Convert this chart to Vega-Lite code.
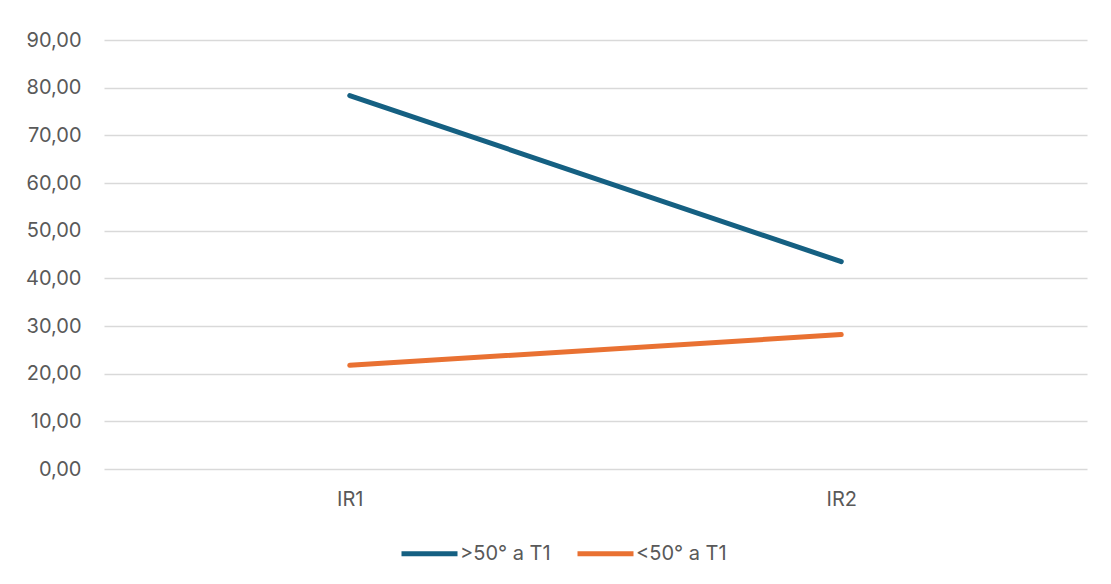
{
  "$schema": "https://vega.github.io/schema/vega-lite/v6.json",
  "width": 983,
  "height": 429,
  "autosize": {"type": "none"},
  "padding": {"left": 104, "top": 40, "right": 24, "bottom": 115},
  "background": "white",
  "data": {
    "values": [
      {"time": "IR1", "group": ">50° a T1", "value": 78.35},
      {"time": "IR2", "group": ">50° a T1", "value": 43.5},
      {"time": "IR1", "group": "<50° a T1", "value": 21.75},
      {"time": "IR2", "group": "<50° a T1", "value": 28.2}
    ]
  },
  "mark": {"type": "line", "strokeWidth": 5, "strokeCap": "round"},
  "encoding": {
    "x": {
      "field": "time",
      "type": "nominal",
      "scale": {"type": "point", "padding": 0.5},
      "axis": {
        "title": null,
        "labelAngle": 0,
        "domain": false,
        "ticks": false,
        "grid": false,
        "labelPadding": 20,
        "labelFontSize": 20,
        "labelColor": "#595959",
        "labelFont": "Inter"
      }
    },
    "y": {
      "field": "value",
      "type": "quantitative",
      "scale": {"domain": [0, 90], "nice": false},
      "axis": {
        "title": null,
        "values": [0, 10, 20, 30, 40, 50, 60, 70, 80, 90],
        "labelExpr": "replace(format(datum.value, '.2f'), '.', ',')",
        "domain": false,
        "ticks": false,
        "gridColor": "#d9d9d9",
        "gridWidth": 1.4,
        "labelPadding": 23,
        "labelFontSize": 20,
        "labelColor": "#595959",
        "labelFont": "Inter"
      }
    },
    "color": {
      "field": "group",
      "type": "nominal",
      "sort": [">50° a T1", "<50° a T1"],
      "scale": {"domain": [">50° a T1", "<50° a T1"], "range": ["#156082", "#E97132"]},
      "legend": {
        "title": null,
        "orient": "none",
        "direction": "horizontal",
        "legendX": 295,
        "legendY": 483,
        "symbolType": "stroke",
        "symbolSize": 3136,
        "symbolStrokeWidth": 5,
        "labelOffset": 0,
        "columnPadding": 16,
        "labelFontSize": 20,
        "labelColor": "#595959",
        "labelFont": "Inter"
      }
    }
  },
  "config": {
    "view": {"stroke": null}
  }
}
